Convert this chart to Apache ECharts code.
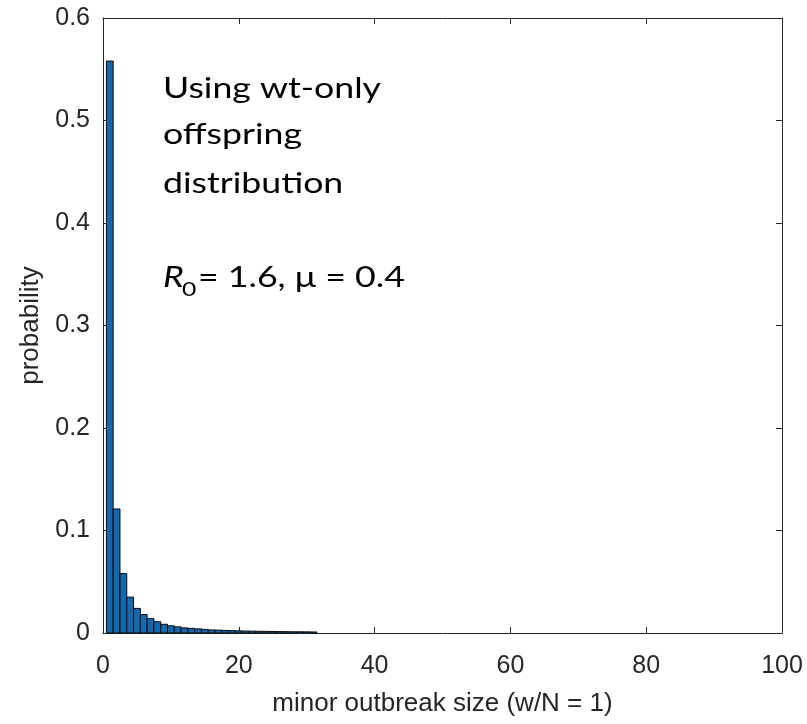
<!DOCTYPE html>
<html>
<head>
<meta charset="utf-8">
<script src="https://cdn.jsdelivr.net/npm/echarts@6/dist/echarts.min.js"></script>
<style>
  html, body { margin: 0; padding: 0; background: #fff; }
  #chart { width: 807px; height: 724px; }
</style>
</head>
<body>
<div id="chart"></div>
<script>
// Minor outbreak size distribution (bins of width 1)
const outbreakSizes = [1, 2, 3, 4, 5, 6, 7, 8, 9, 10, 11, 12, 13, 14, 15, 16,
  17, 18, 19, 20, 21, 22, 23, 24, 25, 26, 27, 28, 29, 30, 31];
const probabilities = [0.558, 0.121, 0.058, 0.035, 0.024, 0.018, 0.014, 0.011,
  0.0085, 0.007, 0.006, 0.005, 0.0045, 0.004, 0.0035, 0.003, 0.0028, 0.0025,
  0.0023, 0.0021, 0.0019, 0.0018, 0.0017, 0.0016, 0.0015, 0.0014, 0.0013,
  0.0012, 0.0012, 0.0011, 0.001];
const xTicks = [0, 20, 40, 60, 80, 100];
const yTicks = [0, 0.1, 0.2, 0.3, 0.4, 0.5, 0.6];

const axisColor = '#262626';
const tickFont = { fontFamily: 'Liberation Sans, Arial, sans-serif', fontSize: 25, color: axisColor };
const nameFont = { fontFamily: 'Liberation Sans, Arial, sans-serif', fontSize: 26, color: axisColor };
const noteFont = '29px Lato, "Open Sans", sans-serif';
const noteItalic = 'italic 29px Lato, "Open Sans", sans-serif';
const noteSub = '20px Lato, "Open Sans", sans-serif';
const noteStretch = 1.23;

const chart = echarts.init(document.getElementById('chart'), null, { renderer: 'canvas' });

const baseX = {
  type: 'value',
  min: xTicks[0],
  max: xTicks[xTicks.length - 1],
  interval: xTicks[1] - xTicks[0],
  splitLine: { show: false },
  axisLine: { show: true, onZero: false, lineStyle: { color: axisColor, width: 1 } },
  axisTick: { show: true, inside: true, length: 6, lineStyle: { color: axisColor } }
};
const baseY = {
  type: 'value',
  min: yTicks[0],
  max: yTicks[yTicks.length - 1],
  interval: 0.1,
  splitLine: { show: false },
  axisLine: { show: true, onZero: false, lineStyle: { color: axisColor, width: 1 } },
  axisTick: { show: true, inside: true, length: 6, lineStyle: { color: axisColor } }
};

function note(text, x, y, font) {
  return {
    type: 'text', x: x, y: y, scaleX: noteStretch,
    style: { text: text, font: font || noteFont, fill: '#000' }
  };
}

chart.setOption({
  backgroundColor: '#ffffff',
  animation: false,
  grid: { left: 103, right: 25, top: 18, bottom: 91 },
  xAxis: [
    Object.assign({}, baseX, {
      position: 'bottom',
      name: 'minor outbreak size (w/N = 1)',
      nameLocation: 'middle',
      nameGap: 58,
      nameTextStyle: nameFont,
      axisLabel: Object.assign({ margin: 21 }, tickFont)
    }),
    Object.assign({}, baseX, { position: 'top', axisLabel: { show: false } })
  ],
  yAxis: [
    Object.assign({}, baseY, {
      position: 'left',
      name: 'probability',
      nameLocation: 'middle',
      nameGap: 59,
      nameTextStyle: nameFont,
      axisLabel: Object.assign({
        margin: 13,
        formatter: v => (v === 0 ? '0' : v.toFixed(1))
      }, tickFont)
    }),
    Object.assign({}, baseY, { position: 'right', axisLabel: { show: false } })
  ],
  series: [{
    type: 'custom',
    xAxisIndex: 0,
    yAxisIndex: 0,
    encode: { x: 0, y: 1 },
    data: outbreakSizes.map((s, i) => [s, probabilities[i]]),
    renderItem: function (params, api) {
      const x = api.value(0);
      const y = api.value(1);
      const topLeft = api.coord([x - 0.5, y]);
      const bottomRight = api.coord([x + 0.5, 0]);
      return {
        type: 'rect',
        shape: {
          x: topLeft[0],
          y: topLeft[1],
          width: bottomRight[0] - topLeft[0],
          height: bottomRight[1] - topLeft[1]
        },
        style: { fill: '#1468b0', stroke: '#0a0a0a', lineWidth: 1 }
      };
    }
  }],
  graphic: [
    note('Using wt-only', 163, 74),
    note('offspring', 163, 120),
    note('distribution', 163, 169),
    note('R', 163, 263, noteItalic),
    note('0', 182, 280, noteSub),
    note('= 1.6, μ = 0.4', 198, 263)
  ]
});
</script>
</body>
</html>
